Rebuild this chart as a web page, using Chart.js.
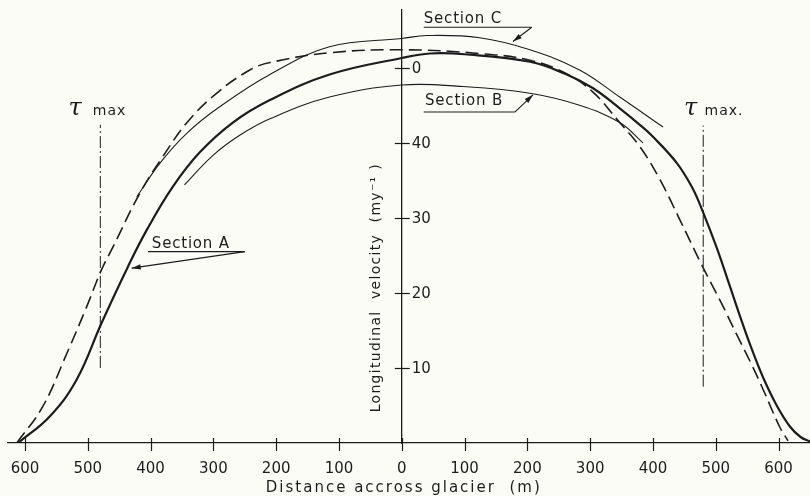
<!DOCTYPE html>
<html><head><meta charset="utf-8">
<script src="https://cdn.jsdelivr.net/npm/chart.js@4.4.1/dist/chart.umd.min.js"></script>
<style>html,body{margin:0;padding:0;background:#fcfcf7;}#wrap{width:810px;height:496px;position:relative;}</style>
</head><body><div id="wrap"><canvas id="c"></canvas></div>
<script>
// ---- data (distance across glacier in m, velocity in m/yr) ----
const sectionA_x = [-611,-561,-518,-478,-436,-406,-365,-322,-269,-210,-115,0,45,100,204,260,304,347,379,400,438,462,479,502,522,541,556,575,597,618,635,650];
const sectionA_v = [0,3.5,8.4,16,23.5,28.4,34.1,38.7,42.7,45.7,49.1,51.3,51.9,51.8,50.8,49.2,47.3,44.6,42.4,40.8,37.3,34.1,30.9,25.9,21.0,16.3,12.8,8.8,5.0,2.2,0.8,0.2];
const dashed_x = [-613,-572,-533,-502,-478,-460,-417,-381,-342,-295,-242,-210,-115,0,124,204,260,304,347,379,411,443,479,508,533,555,575,602,615];
const dashed_v = [0,4.8,12,18.1,23.1,26.1,33.3,38.1,42.7,46.6,49.7,50.7,52,52.4,51.9,51.0,49.3,46.8,42.7,39.5,35.1,29.7,23.5,18.8,14.5,10.8,7.2,2.1,0.3];
const sectionC_x = [-422,-385,-342,-290,-210,-115,0,40,124,204,283,347,416];
const sectionC_v = [32.8,37.3,41.3,44.8,49.1,52.8,53.9,54.3,54,52.4,49.7,46.1,42.1];
const sectionB_x = [-346,-301,-258,-210,-115,0,97,204,283,347,384];
const sectionB_v = [34.4,38.3,41.0,43.2,46.1,47.7,47.5,46.6,45.0,42.7,40];
const tauLeft_x = [-480,-480];
const tauLeft_v = [10,42.4];
const tauRight_x = [480,480];
const tauRight_v = [7.5,42.3];
const xTicks = [-600,-500,-400,-300,-200,-100,0,100,200,300,400,500,600];
const xTickLabels = ['600','500','400','300','200','100','0','100','200','300','400','500','600'];
const yTicks = [10,20,30,40,50];
const yTickLabels = ['10','20','30','40','0'];

const INK = '#1c1c1c';
const FONT = '"DejaVu Sans", sans-serif';
const pts = (xs, vs) => xs.map((x, i) => ({x, y: vs[i]}));

// annotation anchors (data units)
const notes = [
  {text:'Section A', tx:-398, tv:26.5, ul:[-404,-250,25.5], tip:[-430,23.3]},
  {text:'Section C', tx:35, tv:56.5, ul:[35,207,55.4], tip:[177,53.5]},
  {text:'Section B', tx:37, tv:45.5, ul:[35,180,44.1], tip:[209,46.4]}
];
const tauNotes = [
  {tx:-520, mx:-492, v:44.4, text:'max'},
  {tx:460, mx:482, v:44.4, text:'max.'}
];

function arrowHead(ctx, x1, y1, x2, y2) {
  const a = Math.atan2(y2 - y1, x2 - x1), L = 9, W = 2.6;
  ctx.beginPath();
  ctx.moveTo(x2, y2);
  ctx.lineTo(x2 - L*Math.cos(a) + W*Math.sin(a), y2 - L*Math.sin(a) - W*Math.cos(a));
  ctx.lineTo(x2 - L*Math.cos(a) - W*Math.sin(a), y2 - L*Math.sin(a) + W*Math.cos(a));
  ctx.closePath(); ctx.fill();
}

const annot = {
  id: 'annot',
  beforeDraw(chart) {
    const c = chart.ctx; c.save(); c.fillStyle = '#fcfcf7'; c.fillRect(0,0,chart.width,chart.height); c.restore();
  },
  afterDraw(chart) {
    const ctx = chart.ctx, sx = chart.scales.x, sy = chart.scales.y;
    const X = v => sx.getPixelForValue(v), Y = v => sy.getPixelForValue(v);
    const line = (a,b,c,d) => { ctx.beginPath(); ctx.moveTo(a,b); ctx.lineTo(c,d); ctx.stroke(); };
    ctx.save();
    ctx.strokeStyle = INK; ctx.fillStyle = INK; ctx.lineWidth = 1.2;
    const y0 = Y(0), x0 = X(0);
    xTicks.forEach(t => { const p = Math.round(X(t)) + 0.5; line(p, y0 - 5, p, y0 + 8); });
    ctx.font = '15px ' + FONT; ctx.textBaseline = 'middle'; ctx.textAlign = 'left';
    yTicks.forEach((t, i) => {
      const p = Math.round(Y(t)) + 0.5; line(x0 - 7, p, x0 + 8, p);
      ctx.fillText(yTickLabels[i], x0 + 10, p + 1);
    });
    // axis titles
    ctx.letterSpacing = '2px'; ctx.textAlign = 'center';
    ctx.fillText('Distance accross glacier  (m)', x0 + 2, 488);
    ctx.save();
    ctx.translate(x0 - 25, Y(20.7)); ctx.rotate(-Math.PI/2);
    ctx.font = '14px ' + FONT; ctx.letterSpacing = '1.3px';
    ctx.fillText('Longitudinal  velocity  (my\u207B\u00B9 )', 0, 0);
    ctx.restore();
    // section labels
    ctx.font = '15px ' + FONT; ctx.letterSpacing = '0.8px'; ctx.textAlign = 'left';
    ctx.lineWidth = 1.1;
    notes.forEach(n => {
      ctx.fillText(n.text, X(n.tx), Y(n.tv));
      const uy = Y(n.ul[2]);
      line(X(n.ul[0]), uy, X(n.ul[1]), uy);
      line(X(n.ul[1]), uy, X(n.tip[0]), Y(n.tip[1]));
      arrowHead(ctx, X(n.ul[1]), uy, X(n.tip[0]), Y(n.tip[1]));
    });
    // tau max labels
    tauNotes.forEach(n => {
      ctx.letterSpacing = '0px';
      ctx.font = 'italic 24px "DejaVu Serif", serif'; ctx.textAlign = 'center';
      ctx.fillText('\u03C4', X(n.tx), Y(n.v) - 1);
      ctx.font = '14px ' + FONT; ctx.letterSpacing = '1px'; ctx.textAlign = 'left';
      ctx.fillText(n.text, X(n.mx), Y(n.v) + 2);
    });
    ctx.restore();
  }
};

new Chart(document.getElementById('c'), {
  type: 'scatter',
  data: {
    datasets: [
      {label:'Section A', data: pts(sectionA_x, sectionA_v), borderWidth: 2.2},
      {label:'Profile (dashed)', data: pts(dashed_x, dashed_v), borderWidth: 1.6, borderDash:[13,6]},
      {label:'Section C', data: pts(sectionC_x, sectionC_v), borderWidth: 1.1},
      {label:'Section B', data: pts(sectionB_x, sectionB_v), borderWidth: 1.1},
      {label:'tau max left', data: pts(tauLeft_x, tauLeft_v), borderWidth: 1, borderDash:[12,3,2,3]},
      {label:'tau max right', data: pts(tauRight_x, tauRight_v), borderWidth: 1, borderDash:[12,3,2,3]}
    ].map(d => Object.assign({showLine:true, pointRadius:0, borderColor:INK, backgroundColor:INK, tension:0.4, fill:false}, d))
  },
  options: {
    responsive: true, maintainAspectRatio: false, animation: false,
    devicePixelRatio: 1,
    layout: {padding: {left: 8, right: 0, top: 10, bottom: 53}},
    plugins: {legend: {display:false}, tooltip: {enabled:false}},
    scales: {
      x: {
        type:'linear', min:-627, max:650, position: {y: 0},
        afterBuildTicks: s => { s.ticks = xTicks.map(v => ({value: v})); },
        grid: {display:false},
        border: {display:true, color:INK, width:1.3},
        ticks: {color:INK, font:{family:FONT, size:15}, padding: 9, maxRotation:0, autoSkip:false,
                callback: (v, i) => xTickLabels[i]}
      },
      y: {
        type:'linear', min:0, max:57.7, position: {x: 0},
        afterBuildTicks: s => { s.ticks = yTicks.map(v => ({value: v})); },
        grid: {display:false},
        border: {display:true, color:INK, width:1.3},
        ticks: {display:false}
      }
    }
  },
  plugins: [annot]
});
</script></body></html>
